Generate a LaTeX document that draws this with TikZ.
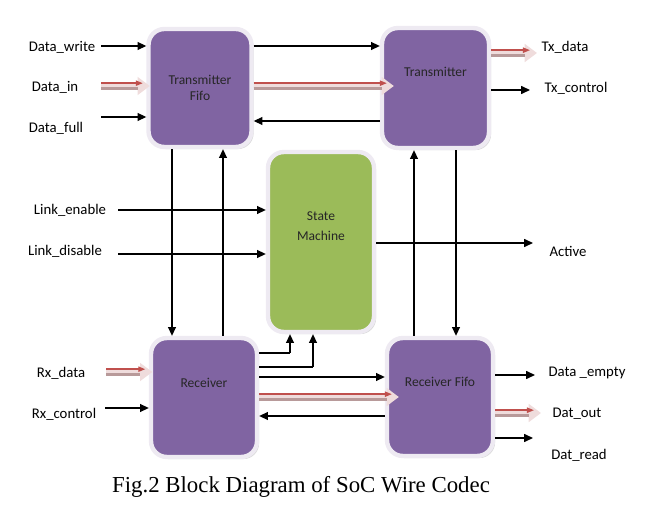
\documentclass[tikz,border=0pt]{standalone}
\usepackage{fontspec}
\setmainfont{Liberation Serif}
\newfontfamily\lblfont{Carlito}
\usetikzlibrary{positioning, arrows.meta, shadows}
\definecolor{blkpurple}{HTML}{8064A2}
\definecolor{blkgreen}{HTML}{9BBB59}
\definecolor{blkrim}{HTML}{EEEAF2}
\definecolor{busfill}{HTML}{EFDCDC}
\definecolor{busred}{HTML}{C0504D}
\definecolor{busdark}{HTML}{B89A9A}

\begin{document}
\begin{tikzpicture}[
  x=0.02cm, y=-0.02cm,
  blk/.style={rectangle, rounded corners=9pt, fill=blkpurple, draw=blkrim, line width=2.5pt,
    drop shadow={opacity=0.3, shadow xshift=1.2pt, shadow yshift=-1.2pt}},
  boxtxt/.style={font=\lblfont\fontsize{7.7}{9.2}\selectfont, text=black!85, align=center},
  lbl/.style={font=\lblfont\fontsize{8.4}{10}\selectfont, text=black},
  sig/.style={draw=black, line width=0.7pt, -{Triangle[length=5pt, width=4.5pt]}},
  bus/.style={draw=busfill, line width=4.5pt, -{Triangle[length=7pt, width=10pt]},
    postaction={draw=busred, line width=0.8pt, -{Triangle[length=4pt, width=3pt]}, shorten >=4pt, transform canvas={yshift=1.6pt}},
    postaction={draw=busdark, line width=1.4pt, -, shorten >=7pt, transform canvas={yshift=-1.5pt}}}
]
\useasboundingbox (0,0) rectangle (663,513);

% === BLOCCHI ===
\node[blk, minimum width=2.06cm, minimum height=2.36cm,
  label={[boxtxt]center:Transmitter\\Fifo}] (txf) at (200,88) {};
\node[blk, minimum width=2.14cm, minimum height=2.4cm,
  label={[boxtxt, yshift=9pt]center:Transmitter}] (tx) at (435.5,88) {};
\node[blk, fill=blkgreen, minimum width=2.12cm, minimum height=3.6cm,
  label={[boxtxt, yshift=9pt]center:State\\[2pt]Machine}] (sm) at (321,242) {};
\node[blk, minimum width=2.12cm, minimum height=2.38cm,
  label={[boxtxt, yshift=8.5pt]center:Receiver}] (rx) at (204,397.5) {};
\node[blk, minimum width=2.12cm, minimum height=2.36cm,
  label={[boxtxt, yshift=8.5pt]center:Receiver Fifo}] (rxf) at (440,397) {};

% === ETICHETTE ===
\node[lbl] (dwl) at (62,47) {Data\_write};
\node[lbl] (dil) at (55,87) {Data\_in};
\node[lbl] (dfl) at (56,128) {Data\_full};
\node[lbl] (txdl) at (565,47) {Tx\_data};
\node[lbl] (txcl) at (576,88) {Tx\_control};
\node[lbl] (lel) at (70,210) {Link\_enable};
\node[lbl] (ldl) at (65,251) {Link\_disable};
\node[lbl] (actl) at (568,251) {Active};
\node[lbl] (rxdl) at (61,373) {Rx\_data};
\node[lbl] (rxcl) at (64,414) {Rx\_control};
\node[lbl] (del) at (587,373) {Data \_empty};
\node[lbl] (dol) at (577,414) {Dat\_out};
\node[lbl] (drl) at (579,455) {Dat\_read};

% === PUNTI ===
\coordinate (dw) at (101,46);
\coordinate (di) at (101,86);
\coordinate (df) at (101,117);
\coordinate (txd) at (537,53);
\coordinate (txc) at (530,90);
\coordinate (le) at (118,210);
\coordinate (ld) at (118,254);
\coordinate (act) at (533,243);
\coordinate (rxd) at (106,372);
\coordinate (rxc) at (105,408);
\coordinate (de) at (535,375);
\coordinate (do) at (541,413);
\coordinate (dr) at (533,438);
\coordinate (k1) at (290,353);
\coordinate (k2) at (313,367);

% === COLLEGAMENTI TRANSMITTER FIFO ===
\draw[sig] (dw) -- (txf.west |- dw);
\draw[bus] (di) -- ([xshift=2pt]txf.west |- di);
\draw[sig] (df) -- (txf.west |- df);
\draw[sig] (txf.east |- dw) -- (tx.west |- dw);
\draw[bus] (txf.east |- di) -- ([xshift=8pt]tx.west |- di);
\draw[sig] (tx.west |- 0,121) -- (txf.east |- 0,121);
\draw[sig] (txf.south -| 172,0) -- (rx.north -| 172,0);
\draw[sig] (rx.north -| 223,0) -- (txf.south -| 223,0);

% === COLLEGAMENTI TRANSMITTER ===
\draw[bus] (tx.east |- txd) -- (txd);
\draw[sig] (tx.east |- txc) -- (txc);
\draw[sig] (rxf.north -| 414,0) -- (tx.south -| 414,0);
\draw[sig] (tx.south -| 456,0) -- (rxf.north -| 456,0);

% === STATE MACHINE ===
\draw[sig] (le) -- (sm.west |- le);
\draw[sig] (ld) -- (sm.west |- ld);
\draw[sig] (sm.east |- act) -- (act);

% === RECEIVER ===
\draw[bus] (rxd) -- ([xshift=2pt]rx.west |- rxd);
\draw[sig] (rxc) -- (rx.west |- rxc);
\draw[line width=0.7pt] (rx.east |- k1) -- (k1);
\draw[sig] (k1) -- (sm.south -| k1);
\draw[line width=0.7pt] (rx.east |- k2) -- (k2);
\draw[sig] (k2) -- (sm.south -| k2);
\draw[sig] (rx.east |- 0,377) -- (rxf.west |- 0,377);
\draw[bus] (rx.east |- 0,397) -- ([xshift=8pt]rxf.west |- 0,397);
\draw[sig] (rxf.west |- 0,416) -- (rx.east |- 0,416);

% === RECEIVER FIFO ===
\draw[sig] (rxf.east |- de) -- (de);
\draw[bus] (rxf.east |- do) -- (do);
\draw[sig] (rxf.east |- dr) -- (dr);

% === DIDASCALIA ===
\node[font=\fontsize{13}{15}\selectfont] (cap) at (301,487) {Fig.2 Block Diagram of SoC Wire Codec};

\end{tikzpicture}
\end{document}
